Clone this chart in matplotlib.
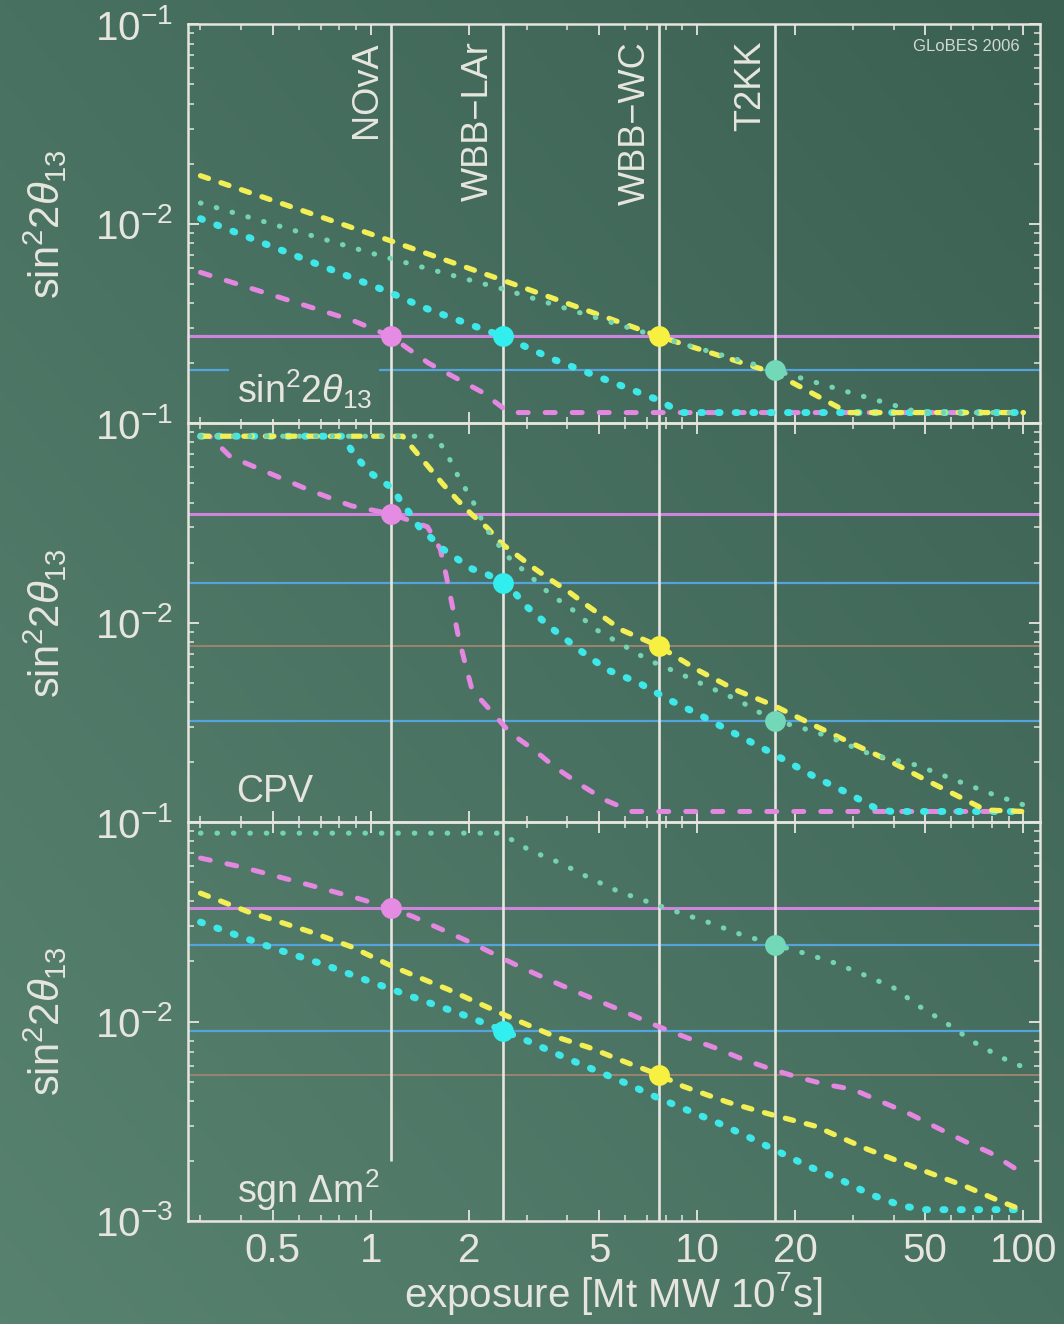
import numpy as np
import matplotlib
matplotlib.use("Agg")
import matplotlib.pyplot as plt
from matplotlib.ticker import FixedLocator, FixedFormatter, LogLocator, NullFormatter, LogFormatterMathtext
from matplotlib.transforms import blended_transform_factory

plt.rcParams['font.family'] = ['Liberation Sans', 'DejaVu Sans']
plt.rcParams['mathtext.fontset'] = 'custom'
plt.rcParams['mathtext.rm'] = 'Liberation Sans'
plt.rcParams['mathtext.it'] = 'Liberation Sans:italic'
plt.rcParams['mathtext.bf'] = 'Liberation Sans:bold'
plt.rcParams['mathtext.sf'] = 'Liberation Sans'

# experiments and their exposure
experiments = ['NOvA', 'WBB\u2212LAr', 'WBB\u2212WC', 'T2KK']
exposures = [1.15, 2.54, 7.65, 17.3]

# reach levels (dots + horizontal lines), one per experiment
th13_levels = [2.72e-3, 2.72e-3, 2.72e-3, 1.84e-3]
cpv_levels = [0.0351, 0.0158, 7.6e-3, 3.2e-3]
mh_levels = [0.037, 9.0e-3, 5.4e-3, 0.0243]

# ---- sin^2 2theta13 discovery curves
th13_nova_x = [0.3, 0.88, 1.15, 1.5, 2.19, 2.65, 100]
th13_nova_y = [5.7e-3, 3.27e-3, 2.72e-3, 2.0e-3, 1.43e-3, 1.13e-3, 1.13e-3]
th13_lar_x = [0.3, 1.15, 1.45, 1.97, 2.54, 3.67, 5.3, 7.65, 8.9, 100]
th13_lar_y = [0.0106, 4.5e-3, 3.8e-3, 3.16e-3, 2.72e-3, 2.07e-3, 1.64e-3, 1.3e-3, 1.13e-3, 1.13e-3]
th13_wc_x = [0.3, 1.15, 2.54, 7.65, 17.3, 29, 100]
th13_wc_y = [0.0174, 8.2e-3, 5.2e-3, 2.72e-3, 1.78e-3, 1.13e-3, 1.13e-3]
th13_t2kk_x = [0.3, 1.07, 2.54, 7.65, 17.3, 30, 48, 100]
th13_t2kk_y = [0.0127, 6.9e-3, 4.7e-3, 2.7e-3, 1.84e-3, 1.41e-3, 1.13e-3, 1.13e-3]

# ---- CP violation curves
cpv_nova_x = [0.3, 0.32, 0.37, 0.65, 0.87, 1.15, 1.49, 1.63, 1.7, 1.77, 1.85, 1.94, 2.04, 2.3,
              2.67, 3.16, 3.67, 4.41, 5.22, 6.3, 100]
cpv_nova_y = [0.086, 0.086, 0.068, 0.046, 0.0385, 0.0351, 0.0302, 0.0234, 0.0172, 0.0124, 0.0086,
              0.0063, 0.0046, 0.0037, 0.0028, 0.0023, 0.00188, 0.00153, 0.00129, 0.00113, 0.00113]
cpv_lar_x = [0.3, 0.82, 0.89, 1.0, 1.17, 1.23, 1.32, 1.41, 1.54, 1.66, 1.85, 2.04, 2.28, 2.54, 2.77,
             2.97, 3.57, 4.35, 5.3, 6.6, 8.2, 10, 12.4, 17.1, 23, 28.6, 35.7, 39.4, 100]
cpv_lar_y = [0.086, 0.086, 0.069, 0.056, 0.0468, 0.0407, 0.035, 0.0299, 0.0263, 0.0234, 0.0207,
             0.0186, 0.0174, 0.0158, 0.014, 0.0122, 0.0094, 0.0073, 0.0058, 0.005, 0.0041, 0.0035,
             0.0029, 0.0022, 0.00168, 0.00141, 0.00116, 0.00113, 0.00113]
cpv_wc_x = [0.3, 1.25, 1.38, 1.51, 1.66, 1.84, 2.03, 2.27, 2.52, 2.82, 3.18, 3.59, 4.08, 4.53, 5.85,
            7.65, 10, 13.1, 17.1, 22.4, 29.5, 38.5, 50.4, 65.9, 76.4, 100]
cpv_wc_y = [0.086, 0.086, 0.071, 0.0596, 0.0495, 0.0412, 0.035, 0.0299, 0.0248, 0.0216, 0.0186,
            0.0162, 0.0141, 0.0124, 0.0092, 0.0076, 0.0058, 0.0046, 0.00385, 0.0031, 0.0025,
            0.00204, 0.00162, 0.0013, 0.00115, 0.00113]
cpv_t2kk_x = [0.3, 1.59, 1.66, 1.77, 1.85, 1.96, 2.06, 2.17, 2.28, 2.61, 2.82, 3.07, 3.35, 3.67, 3.99,
              4.38, 4.8, 5.85, 7.07, 8.74, 10.7, 13.3, 17.3, 19.8, 24.7, 33.9, 47, 64.5, 80.3, 100]
cpv_t2kk_y = [0.086, 0.086, 0.075, 0.063, 0.054, 0.046, 0.040, 0.0335, 0.0288, 0.0216, 0.0193,
              0.0172, 0.015, 0.0133, 0.0122, 0.0108, 0.0094, 0.0078, 0.0065, 0.0056, 0.0048,
              0.0041, 0.0032, 0.00305, 0.00272, 0.00219, 0.00193, 0.00158, 0.00138, 0.00122]

# ---- mass hierarchy curves
mh_nova_x = [0.3, 0.4, 0.6, 0.9, 1.15, 1.35, 2.0, 2.86, 3.5, 4.26, 5.15, 6.3, 7.65, 9.3, 11.3, 13.7,
             16.7, 20.4, 24.7, 30, 37, 45, 54, 66, 79, 95]
mh_nova_y = [0.066, 0.0596, 0.05, 0.0417, 0.037, 0.0335, 0.0251, 0.0188, 0.0162, 0.0141, 0.0124,
             0.0108, 0.0094, 0.0083, 0.0074, 0.0065, 0.0058, 0.00525, 0.00484, 0.00457, 0.00394,
             0.00343, 0.00295, 0.00251, 0.0022, 0.00182]
mh_lar_x = [0.3, 0.4, 0.507, 0.718, 1.0, 1.41, 1.98, 2.54, 3.07, 3.85, 4.8, 5.97, 7.43, 9.31, 11.6,
            14.4, 17.6, 21.9, 27.3, 33.9, 42.5, 50, 100]
mh_lar_y = [0.0315, 0.0266, 0.0232, 0.0193, 0.0158, 0.0129, 0.0106, 0.009, 0.0079, 0.0067, 0.00575,
            0.00495, 0.0042, 0.0036, 0.0031, 0.00263, 0.00224, 0.00188, 0.00162, 0.00136, 0.00119,
            0.00114, 0.00114]
mh_wc_x = [0.3, 0.42, 0.65, 0.87, 1.17, 1.72, 2.63, 2.86, 3.67, 4.67, 5.97, 7.65, 9.06, 12.4, 16.7,
           23, 33.2, 48, 65.9, 84.4, 100]
mh_wc_y = [0.044, 0.0355, 0.0282, 0.0237, 0.0188, 0.0145, 0.0106, 0.010, 0.0084, 0.0074, 0.0063,
           0.0054, 0.00473, 0.00394, 0.00343, 0.00299, 0.00229, 0.00182, 0.0015, 0.00126, 0.00113]
mh_t2kk_x = [0.3, 2.47, 2.8, 3.07, 3.8, 4.67, 5.77, 7.07, 8.87, 10.9, 13.7, 17.3, 21.1, 26.3, 32.3,
             39.9, 48, 57.6, 70.3, 85.6, 100]
mh_t2kk_y = [0.088, 0.088, 0.079, 0.072, 0.0624, 0.0525, 0.0447, 0.0398, 0.035, 0.0313, 0.0272,
             0.0243, 0.0221, 0.0197, 0.0172, 0.0148, 0.0119, 0.0099, 0.0079, 0.0066, 0.0059]

panel_names = [r'sin$^2$2$\theta_{13}$', 'CPV', r'sgn $\Delta$m$^2$']
ylabel = r'sin$^2$2$\theta_{13}$'
xticks = [0.5, 1, 2, 5, 10, 20, 50, 100]
xticklabels = ['0.5', '1', '2', '5', '10', '20', '50', '100']

panels = [
    (th13_levels, [(th13_nova_x, th13_nova_y), (th13_lar_x, th13_lar_y),
                   (th13_wc_x, th13_wc_y), (th13_t2kk_x, th13_t2kk_y)]),
    (cpv_levels, [(cpv_nova_x, cpv_nova_y), (cpv_lar_x, cpv_lar_y),
                  (cpv_wc_x, cpv_wc_y), (cpv_t2kk_x, cpv_t2kk_y)]),
    (mh_levels, [(mh_nova_x, mh_nova_y), (mh_lar_x, mh_lar_y),
                 (mh_wc_x, mh_wc_y), (mh_t2kk_x, mh_t2kk_y)]),
]

# look
bg = '#4a7764'
chalk = '#e6e6de'
curve_styles = [
    dict(color='#e487e0', lw=3.6, dashes=(2.0, 3.4)),
    dict(color='#3fe8e8', lw=5.0, dashes=(0.3, 2.2)),
    dict(color='#f2ee55', lw=3.8, dashes=(1.6, 2.5)),
    dict(color='#74d4b2', lw=3.7, dashes=(0.1, 3.1)),
]
dot_colors = ['#e68be4', '#33eeee', '#f8f040', '#72d8b8']
hline_colors = ['#cf84dc', '#55a3dc', '#9c8470', '#55a3dc']
hline_widths = [2.2, 1.6, 1.4, 1.6]

# chalkboard gradient: lighter bottom-left, darker top-right
c0 = np.array([88, 130, 112]) / 255.0
c1 = np.array([58, 96, 82]) / 255.0


def board_color(fx, fy):
    s = 0.5 * fx + 0.5 * fy
    return c0 * (1 - s) + c1 * s


fig = plt.figure(figsize=(10.64, 13.24), dpi=100)

bgax = fig.add_axes([0, 0, 1, 1], zorder=-10)
gx, gy = np.meshgrid(np.linspace(0, 1, 200), np.linspace(0, 1, 200))
img = board_color(gx[..., None], gy[..., None])
bgax.imshow(img, aspect='auto', extent=[0, 1, 0, 1], origin='lower')
bgax.axis('off')

left, width, height, bottom0 = 0.1767, 0.8003, 0.3013, 0.0778

for i, (levels, curves) in enumerate(panels):
    ax = fig.add_axes([left, bottom0 + (2 - i) * height, width, height])
    ax.set_facecolor('none')
    ax.set_xscale('log')
    ax.set_yscale('log')
    ax.set_xlim(0.2747, 112)
    ax.set_ylim(1e-3, 1e-1)

    # horizontal reach levels, NOvA drawn last so it sits on top
    for k in reversed(range(4)):
        ax.axhline(levels[k], color=hline_colors[k], lw=hline_widths[k], zorder=2)

    # vertical exposure lines (NOvA stops short in the bottom panel)
    for k in range(4):
        ylo = 2e-3 if (i == 2 and k == 0) else 1e-3
        ax.vlines(exposures[k], ylo, 1e-1, color=chalk, lw=1.9, zorder=2.2)

    for k, (cx, cy) in enumerate(curves):
        st = curve_styles[k]
        ax.plot(cx, cy, color=st['color'], lw=st['lw'], dashes=st['dashes'],
                dash_capstyle='round', zorder=3)

    for k in range(4):
        ax.plot(exposures[k], levels[k], ls='none', marker='o', ms=15,
                color=dot_colors[k], mec='none', zorder=4)

    for sp in ax.spines.values():
        sp.set_color(chalk)
        sp.set_linewidth(1.8)
        sp.set_zorder(5)

    ax.tick_params(which='both', direction='in', top=True, right=True, colors=chalk)
    ax.tick_params(which='major', length=8, width=1.3, labelsize=29, pad=8)
    ax.tick_params(which='minor', length=4, width=1.1)
    ax.tick_params(axis='y', which='major', pad=11)

    ax.xaxis.set_major_locator(FixedLocator(xticks))
    ax.xaxis.set_minor_locator(LogLocator(base=10, subs=np.arange(1, 10)))
    ax.xaxis.set_minor_formatter(NullFormatter())
    if i == 2:
        ax.xaxis.set_major_formatter(FixedFormatter(xticklabels))
        ax.yaxis.set_major_locator(FixedLocator([1e-3, 1e-2, 1e-1]))
        ax.set_xlabel(r'exposure [Mt MW 10$^7$s]', fontsize=29, color=chalk, labelpad=0)
    else:
        ax.xaxis.set_major_formatter(NullFormatter())
        ax.yaxis.set_major_locator(FixedLocator([1e-2, 1e-1]))
    ax.yaxis.set_major_formatter(LogFormatterMathtext())
    ax.yaxis.set_minor_locator(LogLocator(base=10, subs=np.arange(2, 10)))
    ax.yaxis.set_minor_formatter(NullFormatter())
    for lab in ax.get_xticklabels() + ax.get_yticklabels():
        lab.set_color(chalk)

    ax.set_ylabel(ylabel, fontsize=30, color=chalk)
    ax.yaxis.set_label_coords(-0.14, 0.5)

    # panel name in the lower left corner; in the top panel it cuts the blue line
    box = None
    if i == 0:
        box = dict(boxstyle='square,pad=0.2', fc=board_color(0.29, 0.705), ec='none')
    ax.text(0.057, 0.03 if i != 2 else 0.02, panel_names[i], transform=ax.transAxes,
            fontsize=27, color=chalk, ha='left', va='bottom', zorder=2.5, bbox=box)

    if i == 0:
        trans = blended_transform_factory(ax.transData, ax.transAxes)
        for k in range(4):
            ax.annotate(experiments[k], xy=(exposures[k], 1.0), xycoords=trans,
                        xytext=(-5, -12), textcoords='offset points', rotation=90,
                        ha='right', va='top', fontsize=26, color=chalk)
        ax.text(0.977, 0.945, 'GLoBES 2006', transform=ax.transAxes, fontsize=12,
                color='#d4d8d0', ha='right', va='center')

fig.savefig('out.png', dpi=100, facecolor=bg)
